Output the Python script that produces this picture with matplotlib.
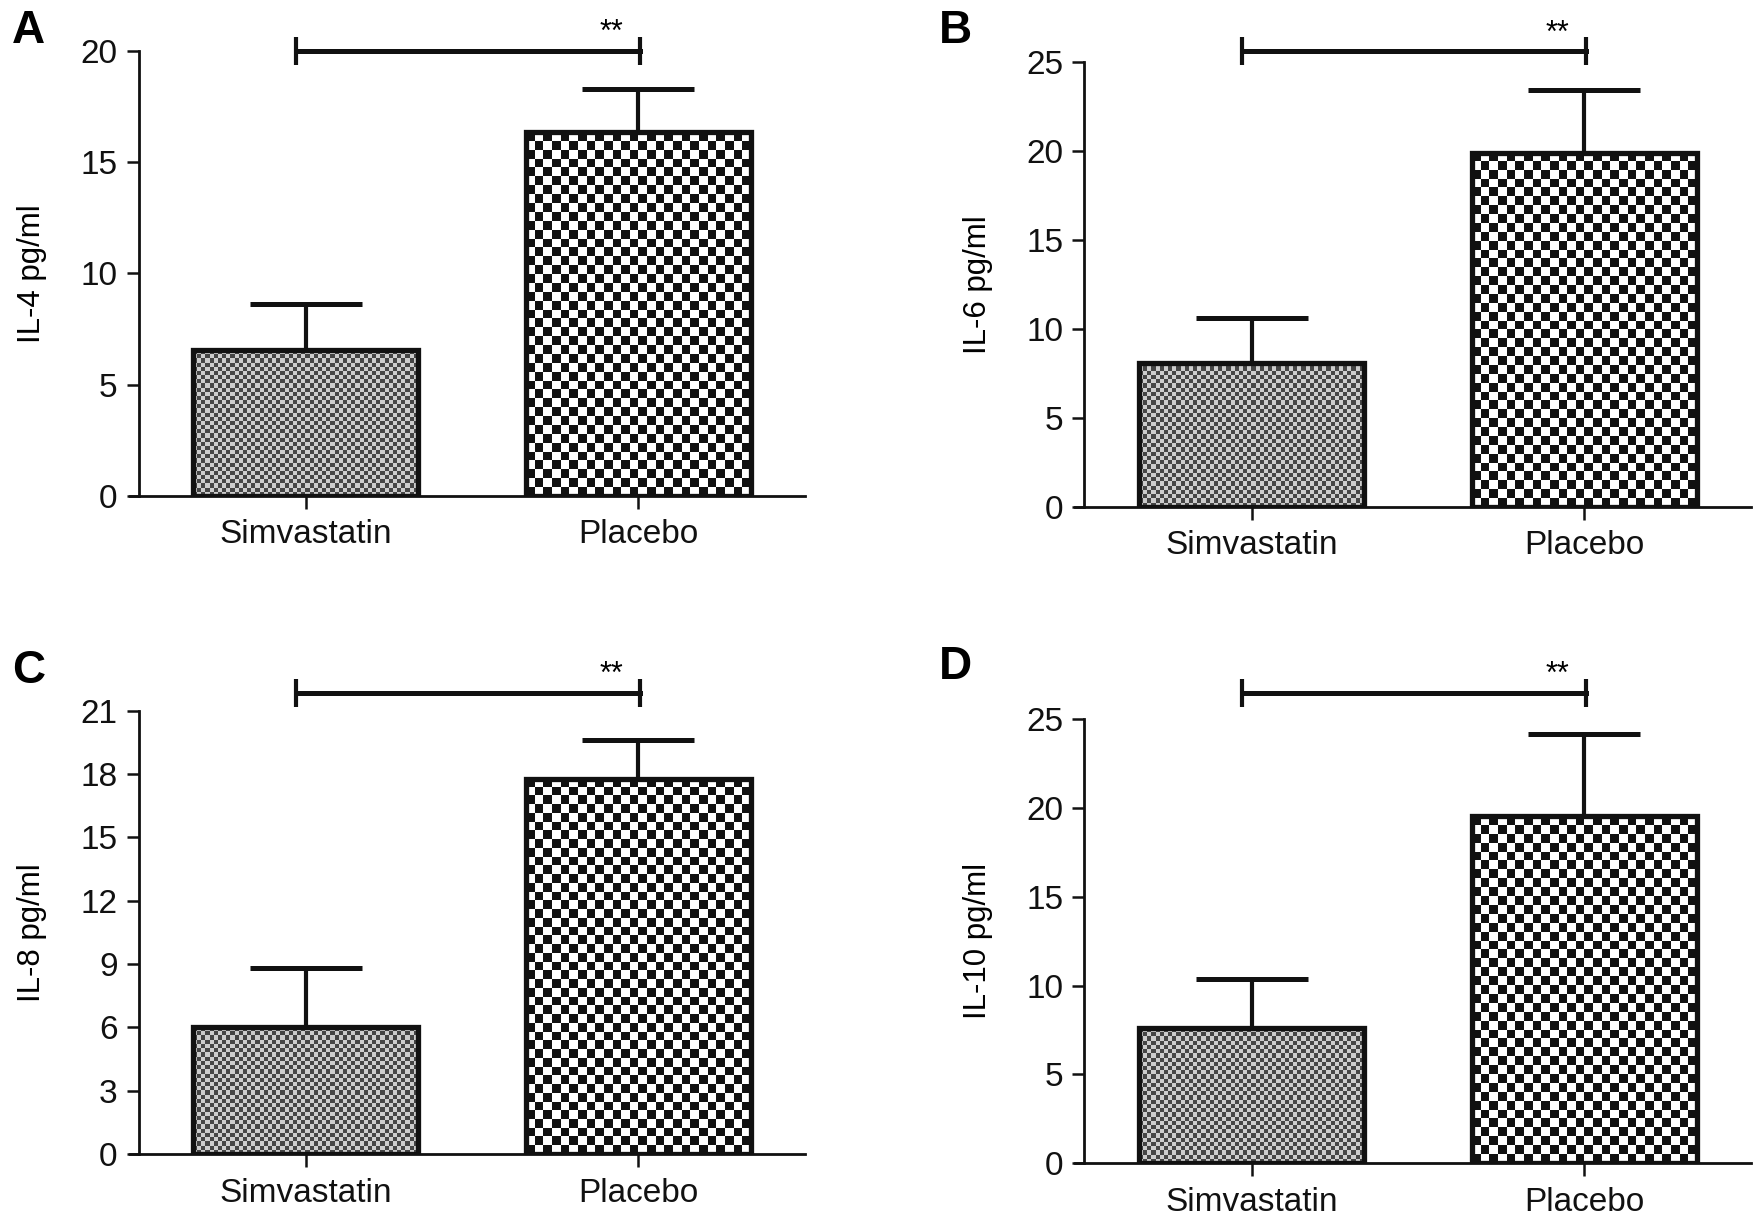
import numpy as np
import matplotlib
matplotlib.use("Agg")
import matplotlib.pyplot as plt
from matplotlib import font_manager

groups = ["Simvastatin", "Placebo"]

il4_mean = [6.55, 16.35]
il4_err = [2.05, 1.95]
il6_mean = [8.1, 19.9]
il6_err = [2.5, 3.55]
il8_mean = [6.0, 17.75]
il8_err = [2.8, 1.85]
il10_mean = [7.6, 19.55]
il10_err = [2.8, 4.65]

ylabels = ["IL-4 pg/ml", "IL-6 pg/ml", "IL-8 pg/ml", "IL-10 pg/ml"]
letters = ["A", "B", "C", "D"]
ymaxes = [20, 25, 21, 25]
yticks_list = [[0, 5, 10, 15, 20], [0, 5, 10, 15, 20, 25],
               [0, 3, 6, 9, 12, 15, 18, 21], [0, 5, 10, 15, 20, 25]]
sig_levels = [20.0, 25.6, 21.85, 26.5]
sig_text = "**"

# pick a narrow font if it is there (reference text is condensed)
names = set(f.name for f in font_manager.fontManager.ttflist)
if "Liberation Sans Narrow" in names:
    FAM = ["Liberation Sans Narrow", "Liberation Sans", "DejaVu Sans"]
    TS = 28
    LS = 25
else:
    FAM = ["Liberation Sans", "DejaVu Sans"]
    TS = 24
    LS = 22.5
plt.rcParams["font.family"] = FAM

fig = plt.figure(figsize=(17.63, 12.24), dpi=100)

# axes rectangles (figure fraction)
rects = [[0.0735, 0.595, 0.383, 0.3634],
         [0.610, 0.586, 0.383, 0.3634],
         [0.0735, 0.057, 0.383, 0.3625],
         [0.610, 0.0497, 0.383, 0.3625]]
letter_pos = [(0.016, 0.975), (0.542, 0.975), (0.016, 0.452), (0.542, 0.455)]


def checker_fill(ax, bar, cell_px, dark, light):
    x0, y0 = bar.get_x(), bar.get_y()
    w, h = bar.get_width(), bar.get_height()
    p0 = ax.transData.transform((x0, y0))
    p1 = ax.transData.transform((x0 + w, y0 + h))
    nc = max(1, int(round(abs(p1[0] - p0[0]) / cell_px)))
    nr = max(1, int(round(abs(p1[1] - p0[1]) / cell_px)))
    ii, jj = np.indices((nr, nc))
    board = ((ii + jj) % 2).astype(float)
    cmap = matplotlib.colors.ListedColormap([dark, light])
    ax.imshow(board, extent=(x0, x0 + w, y0, y0 + h), aspect="auto",
              cmap=cmap, vmin=0, vmax=1, interpolation="nearest",
              origin="upper", zorder=2)


all_means = [il4_mean, il6_mean, il8_mean, il10_mean]
all_errs = [il4_err, il6_err, il8_err, il10_err]

for k in range(4):
    ax = fig.add_axes(rects[k])
    xs = np.arange(len(groups))
    ax.set_xlim(-0.53, 1.5)
    ax.set_ylim(0, ymaxes[k])
    bars = ax.bar(xs, all_means[k], width=0.676, facecolor="none",
                  edgecolor="#111111", linewidth=3.8, zorder=3)
    checker_fill(ax, bars[0], 4.2, "#454545", "#cccccc")
    checker_fill(ax, bars[1], 8.8, "#111111", "#ffffff")
    ax.set_xlim(-0.53, 1.5)
    ax.set_ylim(0, ymaxes[k])

    ax.errorbar(xs, all_means[k], yerr=[[0, 0], all_errs[k]], fmt="none",
                ecolor="#111111", elinewidth=3, capsize=40, capthick=3.6,
                zorder=4)

    # significance bracket
    h = sig_levels[k]
    ax.plot([-0.03, 1.005], [h, h], color="#111111", lw=3.6, marker="|",
            ms=20, mew=3, clip_on=False, zorder=5)
    ax.annotate(sig_text, xy=(0.92, h), xytext=(0, 2),
                textcoords="offset points", ha="center", va="bottom",
                fontsize=22, annotation_clip=False)

    for s in ["top", "right"]:
        ax.spines[s].set_visible(False)
    ax.spines["left"].set_position(("data", -0.503))
    ax.spines["left"].set_linewidth(2)
    ax.spines["bottom"].set_linewidth(2)
    ax.spines["left"].set_color("#111111")
    ax.spines["bottom"].set_color("#111111")

    ax.set_xticks(xs)
    ax.set_xticklabels(groups)
    ax.set_yticks(yticks_list[k])
    ax.tick_params(axis="both", direction="out", length=9, width=1.8,
                   labelsize=TS, colors="#111111", pad=6)
    ax.tick_params(axis="x", pad=8)
    ax.set_ylabel(ylabels[k], fontsize=LS, labelpad=24)

    fig.text(letter_pos[k][0], letter_pos[k][1], letters[k], fontsize=33,
             fontweight="bold", family=["Liberation Sans", "DejaVu Sans"],
             ha="center", va="center")

fig.savefig("out.png", dpi=100, facecolor="white")
